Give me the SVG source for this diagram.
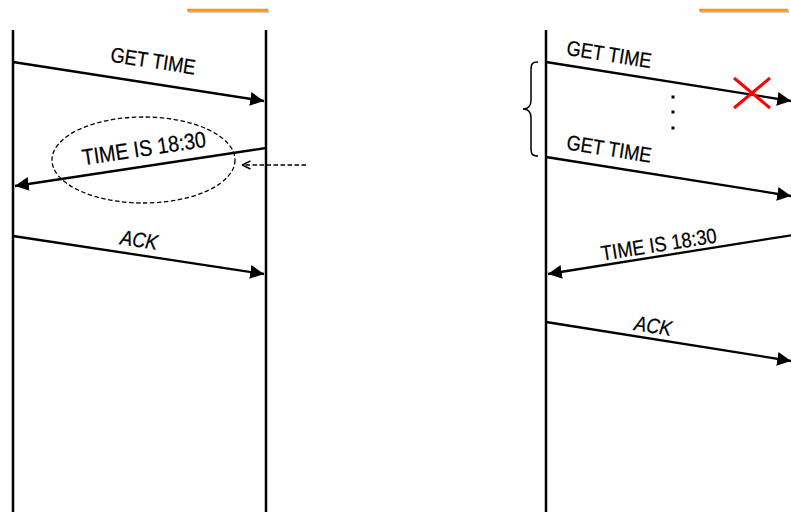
<svg xmlns="http://www.w3.org/2000/svg" width="791" height="512" viewBox="0 0 791 512">
  <style>
    .life { stroke: #000; stroke-width: 2.5; fill: none; }
    .msg { stroke: #000; stroke-width: 2.3; fill: none; }
    .lbl { font-family: "Liberation Sans", Arial, sans-serif; font-size: 21px; fill: #000; stroke: #000; stroke-width: 0.25; text-anchor: middle; }
    .big { font-size: 22.5px; }
    .ack { font-style: italic; }
    .bar { stroke: #FF9900; stroke-width: 2.5; }
    .bar-shadow { stroke: #BBBBBB; stroke-width: 2.5; }
    .dash { stroke: #000; stroke-width: 1.3; stroke-dasharray: 4.5,2.5; fill: none; }
  </style>
  <defs>
    <marker id="head" viewBox="0 0 10 10" refX="10" refY="5" markerWidth="6" markerHeight="6" markerUnits="strokeWidth" orient="auto">
      <path d="M0,0 L10,5 L0,10 Z" fill="#000"/>
    </marker>
    <marker id="open" viewBox="0 0 10 10" refX="9.5" refY="5" markerWidth="10" markerHeight="10" markerUnits="userSpaceOnUse" orient="auto">
      <path d="M1,1 L9.5,5 L1,9" fill="none" stroke="#000" stroke-width="1.4"/>
    </marker>
  </defs>

  <!-- header bars -->
  <g id="bar-left">
    <line class="bar-shadow" x1="188" y1="11.5" x2="269" y2="11.5"/>
    <line class="bar" x1="187" y1="10" x2="268" y2="10"/>
  </g>
  <g id="bar-right">
    <line class="bar-shadow" x1="700" y1="11.5" x2="789" y2="11.5"/>
    <line class="bar" x1="699" y1="10" x2="788" y2="10"/>
  </g>

  <!-- lifelines -->
  <g id="client-a"><line class="life" x1="13" y1="30" x2="13" y2="512"/></g>
  <g id="server-a"><line class="life" x1="266" y1="30" x2="266" y2="512"/></g>
  <g id="client-b"><line class="life" x1="546" y1="30" x2="546" y2="512"/></g>

  <!-- highlight around the reply -->
  <g id="reply-highlight">
    <ellipse class="dash" cx="143.5" cy="160" rx="91.5" ry="43"/>
  </g>

  <!-- messages -->
  <g id="connectors">
    <line class="msg" x1="13" y1="62" x2="264" y2="101" marker-end="url(#head)"/>
    <line class="msg" x1="266" y1="148" x2="15" y2="186" marker-end="url(#head)"/>
    <line class="msg" x1="13" y1="236" x2="264" y2="274" marker-end="url(#head)"/>
    <line class="dash" x1="306" y1="165" x2="242" y2="165" marker-end="url(#open)"/>

    <line class="msg" x1="546" y1="62" x2="791" y2="101" marker-end="url(#head)"/>
    <line class="msg" x1="546" y1="157" x2="791" y2="196" marker-end="url(#head)"/>
    <line class="msg" x1="793" y1="235" x2="548" y2="274" marker-end="url(#head)"/>
    <line class="msg" x1="546" y1="322" x2="791" y2="361" marker-end="url(#head)"/>
  </g>

  <!-- labels -->
  <g id="labels">
    <text class="lbl" transform="translate(152,68) rotate(8.8) scale(0.87,1)">GET TIME</text>
    <text class="lbl big" transform="translate(145,156) rotate(-8.6) scale(0.87,1)">TIME IS 18:30</text>
    <text class="lbl ack" transform="translate(138,247) rotate(8.6) scale(0.87,1)">ACK</text>

    <text class="lbl" transform="translate(608,61.5) rotate(9) scale(0.87,1)">GET TIME</text>
    <text class="lbl" transform="translate(608,156) rotate(9) scale(0.87,1)">GET TIME</text>
    <text class="lbl" transform="translate(660,251.5) rotate(-9) scale(0.87,1)">TIME IS 18:30</text>
    <text class="lbl ack" transform="translate(652,333) rotate(9) scale(0.87,1)">ACK</text>
  </g>

  <!-- lost request -->
  <g id="lost-mark">
    <line x1="734" y1="78" x2="770" y2="108" stroke="#FF0000" stroke-width="3"/>
    <line x1="770" y1="78" x2="734" y2="108" stroke="#FF0000" stroke-width="3"/>
  </g>

  <!-- repeated retries -->
  <g id="retry-dots" fill="#000">
    <rect x="671.5" y="95.5" width="3" height="3"/>
    <rect x="671.5" y="110.5" width="3" height="3"/>
    <rect x="671.5" y="126.5" width="3" height="3"/>
  </g>
  <g id="retry-brace">
    <path d="M538,62 C532,62 531,64 531,70 L531,100 C531,106 528,109 523,109 C528,109 531,112 531,118 L531,148 C531,154 532,156 538,156" fill="none" stroke="#000" stroke-width="1.5"/>
  </g>
</svg>
